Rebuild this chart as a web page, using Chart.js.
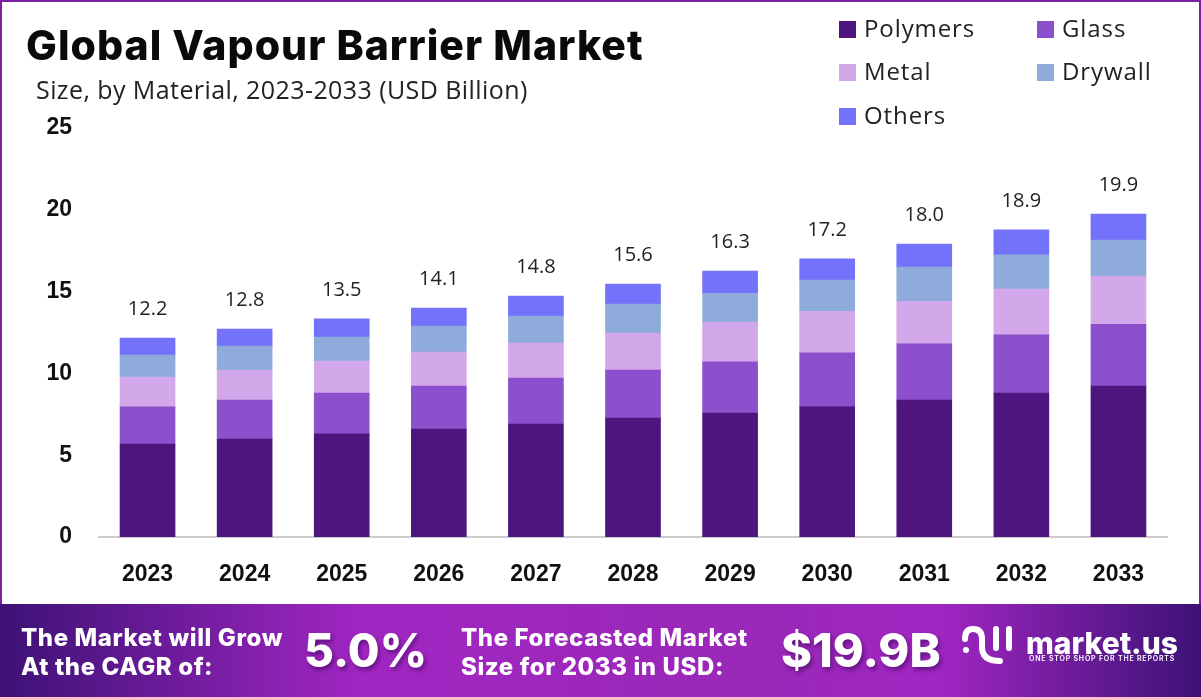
<!DOCTYPE html>
<html lang="en">

<head>
    <meta charset="UTF-8">
    <title>Global Vapour Barrier Market</title>
    <script src="https://cdn.jsdelivr.net/npm/chart.js"></script>
    <style>
        html, body { margin: 0; padding: 0; background: #fff; }
        .page { position: relative; width: 1201px; height: 697px; overflow: hidden; font-family: "Inter", sans-serif; }
        .frame { position: absolute; left: 0; top: 0; width: 1197px; height: 620px; border: 2px solid #7b22a0; }
        canvas { position: absolute; left: 0; top: 0; }
        h1 { position: absolute; left: 26px; top: 20px; margin: 0; font-size: 41px; font-weight: 800; letter-spacing: 1.03px; color: #0a0a0a; white-space: nowrap; }
        .sub { position: absolute; left: 36px; top: 72px; font-size: 25px; letter-spacing: 0.42px; color: #222; white-space: nowrap; font-family: "Open Sans", sans-serif; }
        .legend span { position: absolute; font-size: 24px; letter-spacing: 0.9px; color: #222; white-space: nowrap; line-height: 30px; font-family: "Open Sans", sans-serif; }
        .legend i { position: absolute; width: 17px; height: 17px; }
        .banner { position: absolute; left: 0; top: 604px; width: 1201px; height: 93px; color: #fff; font-weight: 800;
            background: linear-gradient(90deg, #3d1276 0%, #a126c2 30%, #9a28b8 62%, #a126c2 78%, #3d1276 100%); }
        .banner div, .banner svg { position: absolute; white-space: nowrap; }
        .small { font-size: 24px; line-height: 29px; letter-spacing: 0.6px; }
        .big { font-size: 46px; line-height: 60px; text-shadow: 2px 3px 4px rgba(40, 0, 70, .5); }
        .tag { font-size: 7px; letter-spacing: .8px; font-weight: 600; }
    </style>
</head>

<body>
    <div class="page">
        <canvas id="chart" width="1201" height="697"></canvas>
        <div class="frame"></div>
        <h1>Global Vapour Barrier Market</h1>
        <div class="sub">Size, by Material, 2023-2033 (USD Billion)</div>
        <div class="legend" id="legend"></div>
        <div class="banner">
            <div class="small" style="left:21px;top:19px">The Market will Grow<br>At the CAGR of:</div>
            <div class="big" style="left:304px;top:16px">5.0%</div>
            <div class="small" style="left:461px;top:19px">The Forecasted Market<br>Size for 2033 in USD:</div>
            <div class="big" style="left:781px;top:16px;font-size:47px">$19.9B</div>
            <!-- logo mark, rough -->
            <svg style="left:950px;top:11px" width="70" height="50" fill="none" stroke="#fff" stroke-width="6" stroke-linecap="round">
                <path d="M15 24 Q15 14 23 14 Q32 14 32 24 L32 32 Q32 46 50 46" />
                <path d="M16 35 L16 35" />
                <path d="M46 14 L46 33" />
                <path d="M59 14 L59 33" />
            </svg>
            <div style="left:1026px;top:17px;font-size:30px;line-height:44px">market.us</div>
            <div class="tag" style="left:1029px;top:50px">ONE STOP SHOP FOR THE REPORTS</div>
        </div>
    </div>

    <script>
        const years = ['2023', '2024', '2025', '2026', '2027', '2028', '2029', '2030', '2031', '2032', '2033'];
        const totals = ['12.2', '12.8', '13.5', '14.1', '14.8', '15.6', '16.3', '17.2', '18.0', '18.9', '19.9'];
        const polymers = [5.68, 5.99, 6.30, 6.60, 6.90, 7.27, 7.58, 7.95, 8.37, 8.80, 9.23];
        const glass = [2.27, 2.38, 2.50, 2.63, 2.82, 2.93, 3.12, 3.30, 3.43, 3.55, 3.77];
        const metal = [1.83, 1.83, 1.96, 2.07, 2.14, 2.27, 2.44, 2.55, 2.60, 2.81, 2.95];
        const drywall = [1.34, 1.47, 1.46, 1.60, 1.64, 1.77, 1.76, 1.90, 2.10, 2.08, 2.20];
        const others = [1.04, 1.04, 1.11, 1.10, 1.23, 1.22, 1.36, 1.30, 1.40, 1.53, 1.59];

        const seriesNames = ['Polymers', 'Glass', 'Metal', 'Drywall', 'Others'];
        const seriesColors = ['#4e157e', '#8c50cc', '#d2a8ea', '#8fabdc', '#7471fb'];
        const seriesValues = [polymers, glass, metal, drywall, others];

        // legend sits top right, two columns
        const legendX = [839, 1037];
        const legendY = [29, 72, 116];
        const legendEl = document.getElementById('legend');
        seriesNames.forEach((name, i) => {
            const x = legendX[i % 2], y = legendY[Math.floor(i / 2)];
            legendEl.insertAdjacentHTML('beforeend',
                `<i style="left:${x}px;top:${y - 8}px;background:${seriesColors[i]}"></i>` +
                `<span style="left:${x + 25}px;top:${y - 16}px">${name}</span>`);
        });

        // total above every stack
        const totalLabels = {
            id: 'totalLabels',
            afterDatasetsDraw(chart) {
                const { ctx, scales } = chart;
                const last = chart.getDatasetMeta(seriesNames.length - 1).data;
                ctx.save();
                ctx.font = '20px "Open Sans", sans-serif';
                ctx.fillStyle = '#222';
                ctx.textAlign = 'center';
                totals.forEach((t, i) => {
                    ctx.fillText(t, scales.x.getPixelForValue(i), last[i].y - 23);
                });
                ctx.restore();
            }
        };

        new Chart(document.getElementById('chart'), {
            type: 'bar',
            data: {
                labels: years,
                datasets: seriesNames.map((name, i) => ({
                    label: name,
                    data: seriesValues[i],
                    backgroundColor: seriesColors[i],
                    borderWidth: 0,
                    barThickness: 55
                }))
            },
            options: {
                responsive: false,
                animation: false,
                layout: { padding: { top: 128, right: 34, bottom: 100, left: 0 } },
                plugins: { legend: { display: false }, title: { display: false }, tooltip: { enabled: false } },
                scales: {
                    x: {
                        stacked: true,
                        afterFit(scale) { scale.height = 60; },
                        grid: { display: false, drawTicks: false },
                        border: { color: '#cccccc', width: 2 },
                        ticks: { color: '#111', padding: 24, font: { family: '"Liberation Sans"', size: 23, weight: 'bold' } }
                    },
                    y: {
                        stacked: true,
                        min: 0,
                        max: 25,
                        afterFit(scale) { scale.width = 99; },
                        grid: { display: false, drawTicks: false },
                        border: { display: false },
                        ticks: {
                            stepSize: 5,
                            color: '#111',
                            padding: 27,
                            font: { family: '"Liberation Sans"', size: 23, weight: 'bold' }
                        }
                    }
                }
            },
            plugins: [totalLabels]
        });
    </script>
</body>

</html>
